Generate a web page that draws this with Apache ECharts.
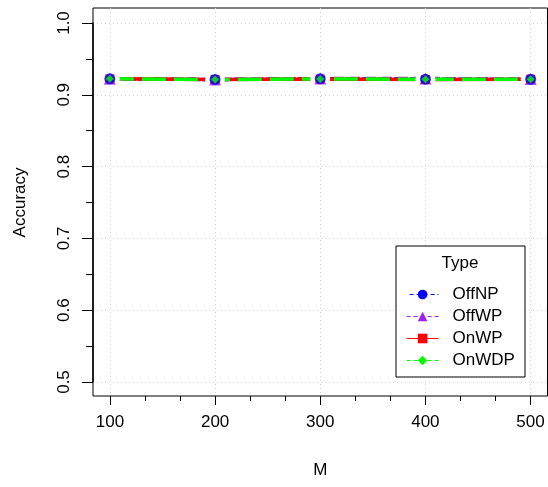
<!DOCTYPE html>
<html><head><meta charset="utf-8">
<script src="https://cdn.jsdelivr.net/npm/echarts@6/dist/echarts.min.js"></script>
<style>html,body{margin:0;padding:0;background:#fff}#c{width:548px;height:487px}</style>
</head><body><div id="c"></div>
<script>
const M = [100, 200, 300, 400, 500];
const offNP = [0.9215, 0.9205, 0.9215, 0.9210, 0.9210];
const offWP = [0.9215, 0.9205, 0.9218, 0.9218, 0.9212];
const onWP  = [0.9215, 0.9205, 0.9212, 0.9205, 0.9210];
const onWDP = [0.9215, 0.9205, 0.9212, 0.9208, 0.9208];
const xTicks = [100, 200, 300, 400, 500];
const yTicks = [0.5, 0.6, 0.7, 0.8, 0.9, 1.0];

const FONT = 'Liberation Sans, Arial, sans-serif';
const pairs = v => M.map((m, i) => [m, v[i]]);

const defs = [
  {name: 'OffNP', data: offNP, color: '#0000FF', dash: [10, 6], dashOffset: 4, symbol: 'circle', size: 11, legendDash: [4, 3]},
  {name: 'OffWP', data: offWP, color: '#A020F0', dash: [10, 6], dashOffset: 0, symbol: 'triangle', size: 12, legendDash: [4, 3]},
  {name: 'OnWP', data: onWP, color: '#FF0000', dash: 'solid', dashOffset: 0, symbol: 'rect', size: 9, legendDash: 'solid'},
  {name: 'OnWDP', data: onWDP, color: '#00FF00', dash: [24, 8], dashOffset: 0, symbol: 'diamond', size: 8, legendDash: [4, 3]}
];

const series = [];
defs.forEach(d => {
  series.push({
    name: d.name, type: 'line', xAxisIndex: 0, yAxisIndex: 0,
    data: pairs(d.data), showSymbol: false, symbol: d.symbol, symbolSize: d.size,
    lineStyle: {color: d.color, width: 3.5, type: d.dash, dashOffset: d.dashOffset},
    itemStyle: {color: d.color}, z: 2, animation: false, silent: true
  });
});
// white gap around points (R type "b")
series.push({
  name: '_gap', type: 'scatter', xAxisIndex: 0, yAxisIndex: 0,
  data: pairs(offNP), symbol: 'circle', symbolSize: 20,
  itemStyle: {color: '#ffffff', opacity: 1}, z: 3, zlevel: 0, animation: false, silent: true
});
const markerOrder = [1, 2, 0, 3];
markerOrder.forEach(k => {
  const d = defs[k];
  series.push({
    name: '_m' + d.name, type: 'scatter', xAxisIndex: 0, yAxisIndex: 0,
    data: pairs(d.data), symbol: d.symbol, symbolSize: d.size,
    itemStyle: {color: d.color}, z: 4, animation: false, silent: true
  });
});

const chart = echarts.init(document.getElementById('c'), null, {renderer: 'canvas'});
chart.setOption({
  backgroundColor: '#ffffff',
  animation: false,
  textStyle: {fontFamily: FONT},
  grid: [
    {left: 93, right: 0.5, top: 8, bottom: 91, show: true, borderColor: '#000', borderWidth: 1, backgroundColor: 'transparent'},
    {left: 110, right: 17.5, top: 8, bottom: 91},
    {left: 93, right: 0.5, top: 23, bottom: 105}
  ],
  xAxis: [
    {gridIndex: 0, type: 'value', min: 84, max: 516, show: false},
    {gridIndex: 1, type: 'value', min: xTicks[0], max: xTicks[xTicks.length - 1], interval: 100,
     offset: 2,
     axisLine: {show: false},
     axisTick: {show: true, length: 9, lineStyle: {color: '#000', width: 1}},
     minorTick: {show: true, splitNumber: 3, length: 5, lineStyle: {color: '#000', width: 1}},
     axisLabel: {margin: 16, fontSize: 17, color: '#000', fontFamily: FONT},
     splitLine: {show: true, lineStyle: {color: '#d3d3d3', type: [1, 3], width: 1}},
     name: 'M', nameLocation: 'middle', nameGap: 64,
     nameTextStyle: {fontSize: 17, color: '#000', fontFamily: FONT}},
    {gridIndex: 2, type: 'value', min: 0, max: 1, show: false}
  ],
  yAxis: [
    {gridIndex: 0, type: 'value', min: 0.48, max: 1.02, show: false},
    {gridIndex: 1, type: 'value', min: 0, max: 1, show: false},
    {gridIndex: 2, type: 'value', min: yTicks[0], max: yTicks[yTicks.length - 1], interval: 0.1,
     axisLine: {show: true, lineStyle: {color: '#000', width: 1.5}},
     axisTick: {show: true, length: 11, lineStyle: {color: '#000', width: 1}},
     minorTick: {show: true, splitNumber: 2, length: 7, lineStyle: {color: '#000', width: 1}},
     axisLabel: {rotate: 90, margin: 20, fontSize: 17, color: '#000', fontFamily: FONT,
                 formatter: v => v.toFixed(1)},
     splitLine: {show: true, lineStyle: {color: '#d3d3d3', type: [1, 3], width: 1}},
     name: 'Accuracy', nameLocation: 'middle', nameGap: 64, nameRotate: 90,
     nameTextStyle: {fontSize: 17, color: '#000', fontFamily: FONT}}
  ],
  legend: {
    orient: 'vertical', left: 401, top: 281, itemWidth: 32, itemHeight: 12, itemGap: 5,
    textStyle: {fontSize: 17, color: '#000', fontFamily: FONT, padding: [0, 0, 0, 9]},
    selectedMode: false,
    data: defs.map(d => ({name: d.name, lineStyle: {width: 1.2, type: d.legendDash, color: d.color}, itemStyle: {color: d.color}}))
  },
  graphic: [
    {type: 'rect', shape: {x: 396, y: 246, width: 129, height: 131}, style: {fill: '#fff', stroke: '#000', lineWidth: 1}, z: 1},
    {type: 'text', x: 460, y: 263, style: {text: 'Type', fontSize: 17, fontFamily: FONT, fill: '#000', textAlign: 'center', textVerticalAlign: 'middle'}, z: 10}
  ],
  series: series
});
</script></body></html>
